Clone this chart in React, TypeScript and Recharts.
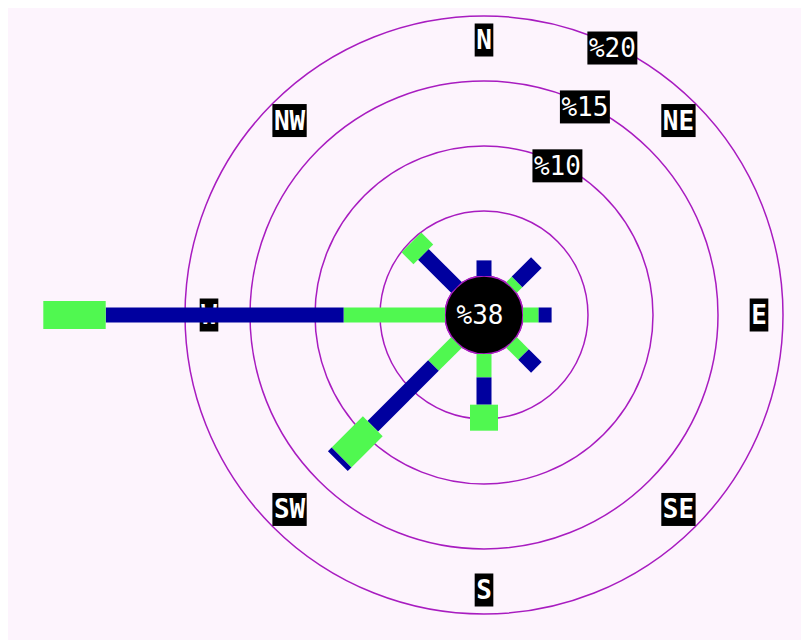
import React from "react";
import {
  RadialBarChart,
  RadialBar,
  PolarGrid,
  PolarAngleAxis,
  PolarRadiusAxis,
  Customized,
} from "recharts";

// wind directions, clockwise from north
const DIRS = ["N", "NE", "E", "SE", "S", "SW", "W", "NW"];
const BEARINGS = [0, 45, 90, 135, 180, 225, 270, 315];

// frequency (%) per speed class, one value per direction
const CLASS1 = [0, 0.6, 1.2, 1.3, 1.8, 2.5, 7.8, 0];
const CLASS2 = [1.2, 2.1, 1.0, 1.4, 2.1, 6.6, 18.3, 3.6];
const CLASS3 = [0, 0, 0, 0, 2.0, 3.4, 4.8, 1.3];
const CLASS4 = [0, 0, 0, 0, 0, 0.4, 0, 0];

const RING_TICKS = [0, 5, 10, 15, 20];
const CALM = 38;

const data = DIRS.map((dir, i) => ({
  dir,
  deg: BEARINGS[i],
  c1: CLASS1[i],
  c2: CLASS2[i],
  c3: CLASS3[i],
  c4: CLASS4[i],
}));

const W = 801;
const H = 640;
const CX = 476;
const CY = 315;
const INNER = 39;
const PX_PER_PCT = 13;
const MAX_PCT = 40;
const OUTER = INNER + PX_PER_PCT * MAX_PCT;
const LABEL_R = 275;

const BG = "#fdf4fd";
const RING = "#a81cc0";
const GREEN = "#50f850";
const BLUE = "#00009f";
const FONT = "'DejaVu Sans Mono', monospace";
const FS = 26;
const CHAR_W = FS * 0.602;

// straight bar segment along the sector's middle angle
const segment = (thickness: number) => (p: any) => {
  const { cx, cy, innerRadius, outerRadius, startAngle, endAngle, fill } = p;
  if (!(outerRadius - innerRadius > 0.5)) return <g />;
  const mid = (startAngle + endAngle) / 2;
  return (
    <rect
      x={cx + innerRadius}
      y={cy - thickness / 2}
      width={outerRadius - innerRadius}
      height={thickness}
      fill={fill}
      transform={`rotate(${-mid} ${cx} ${cy})`}
    />
  );
};

const Tag = ({ x, y, text, bold }: any) => {
  const w = text.length * CHAR_W + 3;
  return (
    <g>
      <rect x={x - w / 2} y={y - 16.5} width={w} height={33} fill="#000" />
      <text
        x={x}
        y={y + 9}
        textAnchor="middle"
        fill="#fff"
        fontFamily={FONT}
        fontSize={FS}
        fontWeight={bold ? "bold" : "normal"}
      >
        {text}
      </text>
    </g>
  );
};

const DirTick = (p: any) => {
  const idx = BEARINGS.indexOf(p.payload.value);
  if (idx < 0) return <g />;
  return <Tag x={p.x} y={p.y} text={DIRS[idx]} bold />;
};

const RingTick = (p: any) => {
  const v = p.payload.value;
  if (v < 10) return <g />;
  return <Tag x={p.x + 2} y={p.y + 4} text={`%${v}`} />;
};

const CalmDisk = () => (
  <g>
    <circle cx={CX} cy={CY} r={INNER} fill="#000" stroke={RING} strokeWidth={1.5} />
    <text
      x={CX - 4}
      y={CY + 9}
      textAnchor="middle"
      fill="#fff"
      fontFamily={FONT}
      fontSize={FS}
    >
      {`%${CALM}`}
    </text>
  </g>
);

export default function App() {
  return (
    <div style={{ marginTop: -8, width: W, height: H, background: BG }}>
      <RadialBarChart
        width={W}
        height={H}
        data={data}
        layout="centric"
        cx={CX}
        cy={CY}
        innerRadius={INNER}
        outerRadius={OUTER}
        startAngle={90}
        endAngle={-270}
        margin={{ top: 0, right: 0, bottom: 0, left: 0 }}
      >
        <PolarGrid gridType="circle" radialLines={false} stroke={RING} strokeWidth={1.5} />
        <PolarAngleAxis
          type="number"
          dataKey="deg"
          domain={[0, 360]}
          ticks={BEARINGS}
          axisLine={false}
          tickLine={false}
          orientation="inner"
          tickSize={OUTER - LABEL_R}
          tick={DirTick}
          zIndex={100}
        />
        <PolarRadiusAxis
          type="number"
          domain={[0, MAX_PCT]}
          ticks={RING_TICKS}
          angle={65}
          axisLine={false}
          tickLine={false}
          tick={RingTick}
        />
        <RadialBar dataKey="c1" stackId="a" fill={GREEN} shape={segment(15)} isAnimationActive={false} />
        <RadialBar dataKey="c2" stackId="a" fill={BLUE} shape={segment(15)} isAnimationActive={false} />
        <RadialBar dataKey="c3" stackId="a" fill={GREEN} shape={segment(28)} isAnimationActive={false} />
        <RadialBar dataKey="c4" stackId="a" fill={BLUE} shape={segment(28)} isAnimationActive={false} />
        <Customized component={CalmDisk} />
      </RadialBarChart>
    </div>
  );
}
